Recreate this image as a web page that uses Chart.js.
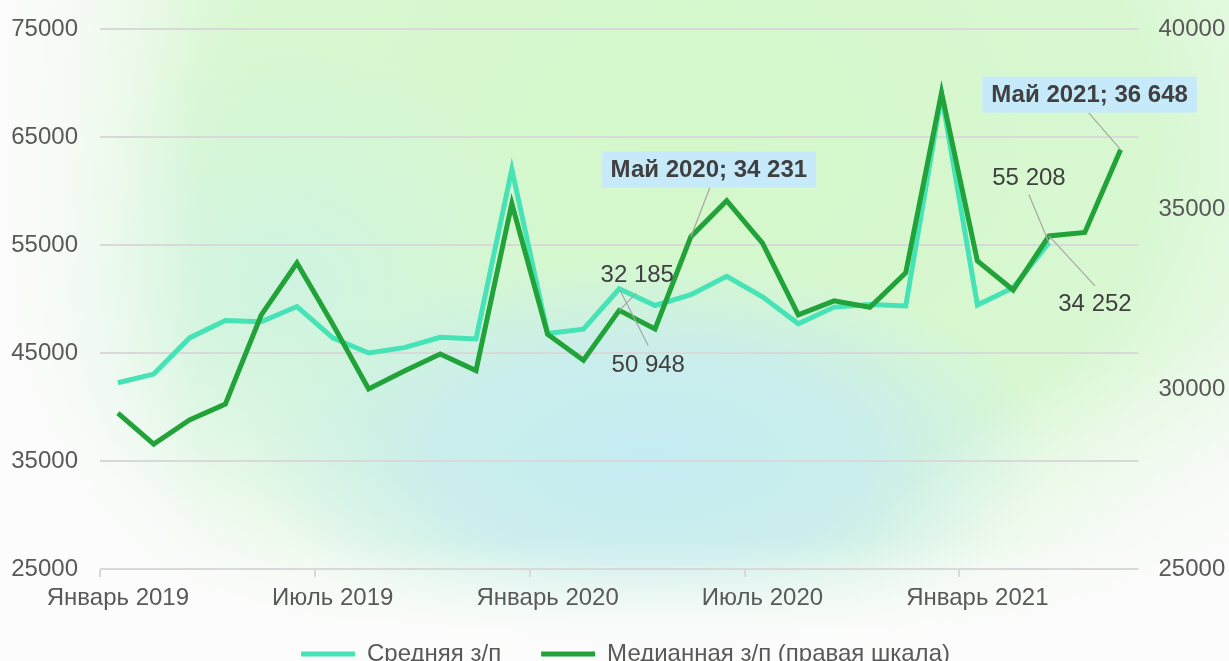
<!DOCTYPE html>
<html>
<head>
<meta charset="utf-8">
<script src="https://cdn.jsdelivr.net/npm/chart.js@4.4.1/dist/chart.umd.min.js"></script>
<style>
  html, body { margin: 0; padding: 0; background: #ffffff; overflow: hidden; }
  #wrap { position: relative; width: 1229px; height: 661px; }
</style>
</head>
<body>
<div id="wrap"><canvas id="c"></canvas></div>
<script>
// ---------- data ----------
const months = ['Январь 2019','Февраль 2019','Март 2019','Апрель 2019','Май 2019','Июнь 2019',
  'Июль 2019','Август 2019','Сентябрь 2019','Октябрь 2019','Ноябрь 2019','Декабрь 2019',
  'Январь 2020','Февраль 2020','Март 2020','Апрель 2020','Май 2020','Июнь 2020',
  'Июль 2020','Август 2020','Сентябрь 2020','Октябрь 2020','Ноябрь 2020','Декабрь 2020',
  'Январь 2021','Февраль 2021','Март 2021','Апрель 2021','Май 2021'];
const meanWage = [42250, 43050, 46400, 48000, 47900, 49300, 46400, 45000, 45500, 46450, 46300, 62000,
  46800, 47200, 50948, 49400, 50400, 52100, 50200, 47700, 49250, 49500, 49350, 68900,
  49450, 51050, 55208, null, null];
const medianWage = [29330, 28470, 29140, 29580, 32050, 33500, 31800, 30000, 30500, 30970, 30510, 35150,
  31520, 30800, 32185, 31670, 34231, 35230, 34050, 32060, 32450, 32270, 33230, 38230,
  33560, 32750, 34252, 34350, 36648];
const seriesNames = ['Средняя з/п', 'Медианная з/п (правая шкала)'];
const leftTicks = [25000, 35000, 45000, 55000, 65000, 75000];
const rightTicks = [25000, 30000, 35000, 40000];
const labelEvery = 6;
// annotations: dataset index, point index, text
const annotations = [
  { ds: 1, i: 14, text: '32 185', bold: false, dx: 18, dy: -36, lx: 17, ly: -17 },
  { ds: 0, i: 14, text: '50 948', bold: false, dx: 29, dy: 76, lx: 29, ly: 57 },
  { ds: 1, i: 16, text: 'Май 2020; 34 231', bold: true, dx: 18, dy: -67, lx: 19, ly: -49 },
  { ds: 0, i: 26, text: '55 208', bold: false, dx: -20, dy: -65, lx: -20, ly: -48 },
  { ds: 1, i: 26, text: '34 252', bold: false, dx: 46, dy: 67, lx: 46, ly: 50 },
  { ds: 1, i: 28, text: 'Май 2021; 36 648', bold: true, dx: -31, dy: -55, lx: -32, ly: -37 }
];

const FONT = "'Liberation Sans', Arial, sans-serif";
const LEGEND_H = 44;

function radial(ctx, cx, cy, r, sx, stops) {
  ctx.save();
  ctx.translate(cx, cy);
  ctx.scale(sx, 1);
  const g = ctx.createRadialGradient(0, 0, 0, 0, 0, r);
  stops.forEach(s => g.addColorStop(s[0], s[1]));
  ctx.fillStyle = g;
  ctx.fillRect(-2000, -2000, 4000, 4000);
  ctx.restore();
}

const bgPlugin = {
  id: 'bg',
  beforeDraw(chart) {
    const ctx = chart.ctx, w = chart.width, h = chart.height;
    ctx.save();
    ctx.fillStyle = '#fcfcfc';
    ctx.fillRect(0, 0, w, h);
    // broad green
    radial(ctx, 690, 140, 600, 1.3, [[0, 'rgba(212,248,202,1)'], [0.6, 'rgba(213,247,206,0.92)'], [1, 'rgba(215,246,212,0)']]);
    // mint on the left-middle
    radial(ctx, 290, 290, 250, 1.1, [[0, 'rgba(206,243,226,0.9)'], [1, 'rgba(208,244,226,0)']]);
    // cyan lower middle
    radial(ctx, 650, 455, 200, 2.0, [[0, 'rgba(197,236,243,1)'], [0.55, 'rgba(199,236,241,0.8)'], [1, 'rgba(200,237,240,0)']]);
    // white fades: left edge, bottom, bottom-right
    let g = ctx.createLinearGradient(0, 0, 200, 0);
    g.addColorStop(0, 'rgba(252,252,252,0.9)');
    g.addColorStop(1, 'rgba(252,252,252,0)');
    ctx.fillStyle = g; ctx.fillRect(0, 0, 200, h);
    g = ctx.createLinearGradient(0, 540, 0, 630);
    g.addColorStop(0, 'rgba(252,252,252,0)');
    g.addColorStop(1, 'rgba(252,252,252,0.9)');
    ctx.fillStyle = g; ctx.fillRect(0, 540, w, h - 540);
    radial(ctx, 1229, 661, 330, 1.2, [[0, 'rgba(252,252,252,0.95)'], [1, 'rgba(252,252,252,0)']]);
    ctx.restore();
  }
};

const layoutFix = {
  id: 'layoutFix',
  beforeLayout(chart) {
    const lg = chart.legend;
    if (lg && !lg._patched) {
      const fit = lg.fit;
      lg.fit = function () { fit.call(this); this.height = LEGEND_H; };
      lg._patched = true;
    }
  },
  afterLayout(chart) {
    const lg = chart.legend;
    if (lg) {
      lg.top = 602; lg.bottom = 661;
      lg.left += 11; lg.right += 11;
    }
  }
};

const labelPlugin = {
  id: 'labels',
  afterDatasetsDraw(chart) {
    const ctx = chart.ctx;
    ctx.save();
    annotations.forEach(a => {
      const el = chart.getDatasetMeta(a.ds).data[a.i];
      const px = el.x, py = el.y;
      ctx.strokeStyle = '#a6a6a6';
      ctx.lineWidth = 1.2;
      ctx.beginPath();
      ctx.moveTo(px, py);
      ctx.lineTo(px + a.lx, py + a.ly);
      ctx.stroke();
      ctx.font = (a.bold ? 'bold ' : '') + '24px ' + FONT;
      ctx.textAlign = 'center';
      ctx.textBaseline = 'middle';
      const cx = px + a.dx, cy = py + a.dy;
      if (a.bold) {
        const tw = ctx.measureText(a.text).width;
        ctx.fillStyle = '#c6eafa';
        ctx.fillRect(cx - tw / 2 - 9, cy - 18, tw + 18, 36);
      }
      ctx.fillStyle = '#404040';
      ctx.fillText(a.text, cx, cy + 1);
    });
    ctx.restore();
  }
};

function noVPad(s) { s.paddingTop = 0; s.paddingBottom = 0; }

new Chart(document.getElementById('c'), {
  type: 'line',
  data: {
    labels: months,
    datasets: [
      { label: seriesNames[0], data: meanWage, yAxisID: 'y', borderColor: '#45e3b6', backgroundColor: '#45e3b6',
        borderWidth: 5, pointRadius: 0, tension: 0, order: 1 },
      { label: seriesNames[1], data: medianWage, yAxisID: 'y1', borderColor: '#21a33a', backgroundColor: '#21a33a',
        borderWidth: 5, pointRadius: 0, tension: 0, order: 0 }
    ]
  },
  options: {
    responsive: true,
    maintainAspectRatio: false,
    animation: false,
    layout: { padding: { top: 29, left: 0, right: 0, bottom: 0 } },
    plugins: {
      tooltip: { enabled: false },
      legend: {
        position: 'bottom',
        labels: {
          usePointStyle: true, pointStyle: 'line', pointStyleWidth: 54,
          padding: 40, color: '#595959', font: { family: FONT, size: 24 },
          sort: (a, b) => a.datasetIndex - b.datasetIndex
        }
      }
    },
    scales: {
      x: {
        type: 'category',
        offset: true,
        grid: {
          offset: true, drawOnChartArea: false, drawTicks: true, tickLength: 8, lineWidth: 2,
          color: c => (c.index % labelEvery === 0 ? '#d9d9d9' : 'rgba(0,0,0,0)')
        },
        border: { display: false },
        ticks: {
          autoSkip: false, maxRotation: 0, minRotation: 0, padding: 7,
          color: '#595959', font: { family: FONT, size: 24 },
          callback: function (v, i) { return i % labelEvery === 0 ? this.getLabelForValue(v) : ''; }
        },
        afterFit(s) { s.height = 48; }
      },
      y: {
        position: 'left', min: 25000, max: 75000,
        afterBuildTicks(s) { s.ticks = leftTicks.map(v => ({ value: v })); },
        grid: { color: '#d9d9d9', lineWidth: 2, drawTicks: false },
        border: { display: false },
        ticks: { padding: 22, color: '#595959', font: { family: FONT, size: 24 }, callback: v => String(v) },
        afterFit(s) { s.width = 100; noVPad(s); }
      },
      y1: {
        position: 'right', min: 25000, max: 40000,
        afterBuildTicks(s) { s.ticks = rightTicks.map(v => ({ value: v })); },
        grid: { drawOnChartArea: false, drawTicks: false },
        border: { display: false },
        ticks: { padding: 20, color: '#595959', font: { family: FONT, size: 24 }, callback: v => String(v) },
        afterFit(s) { s.width = 90.5; noVPad(s); }
      }
    }
  },
  plugins: [bgPlugin, layoutFix, labelPlugin]
});
</script>
</body>
</html>
